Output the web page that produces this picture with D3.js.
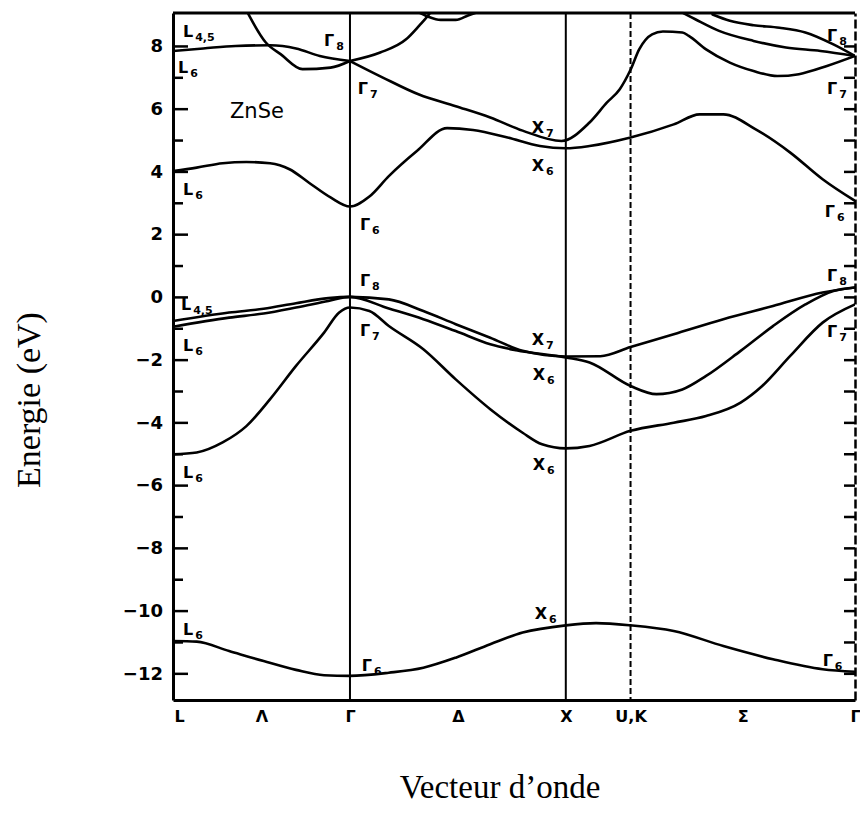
<!DOCTYPE html>
<html><head><meta charset="utf-8">
<script src="https://cdn.jsdelivr.net/npm/d3@7"></script>
<style>body{margin:0;background:#fff;} svg{display:block;}</style>
</head><body>
<svg id="chart" width="860" height="817"></svg>
<script>
// ---- high-symmetry path (units: Γ–X = 1) ----
const kPoints = [0, 0.82, 1.82, 2.12, 3.16];          // L, Γ, X, U/K, Γ
const kLineStyle = ["none", "solid", "solid", "dash", "none"];
const kTickLabels = ["L", "Λ", "Γ", "Δ", "X", "U,K", "Σ", "Γ"];
const kTickPos = [0, 0.41, 0.82, 1.32, 1.82, 2.12, 2.64, 3.16];
const eMajorTicks = [-12, -10, -8, -6, -4, -2, 0, 2, 4, 6, 8];
const eMinorTicks = [-11, -9, -7, -5, -3, -1, 1, 3, 5, 7];
const eAllTicks = [-12, -11, -10, -9, -8, -7, -6, -5, -4, -3, -2, -1, 0, 1, 2, 3, 4, 5, 6, 7, 8];

// ---- bands (k, E in eV) ----
const b1k = [0, 0.11, 0.26, 0.42, 0.57, 0.70, 0.82, 1.0, 1.16, 1.31, 1.47, 1.62, 1.82, 1.96, 2.12, 2.32, 2.55, 2.78, 3.01, 3.16];
const b1e = [-10.97, -10.99, -11.29, -11.61, -11.89, -12.06, -12.08, -11.98, -11.82, -11.50, -11.07, -10.70, -10.47, -10.40, -10.47, -10.65, -11.13, -11.55, -11.87, -11.95];

const b2k = [0, 0.11, 0.23, 0.34, 0.45, 0.57, 0.70, 0.77, 0.82, 0.91, 1.0, 1.16, 1.31, 1.47, 1.62, 1.71, 1.82, 1.93, 2.12, 2.32, 2.47, 2.63, 2.73, 2.86, 3.01, 3.16];
const b2e = [-5.02, -4.96, -4.64, -4.12, -3.26, -2.20, -1.14, -0.50, -0.34, -0.45, -0.93, -1.67, -2.63, -3.58, -4.33, -4.70, -4.83, -4.75, -4.27, -4.01, -3.80, -3.37, -2.84, -1.88, -0.82, -0.24];

const b3k = [0, 0.26, 0.42, 0.57, 0.72, 0.82, 1.0, 1.16, 1.31, 1.47, 1.62, 1.82, 1.98, 2.12, 2.32, 2.55, 2.78, 3.01, 3.16];
const b3e = [-0.77, -0.50, -0.38, -0.20, -0.04, 0.0, -0.08, -0.45, -0.87, -1.30, -1.72, -1.90, -1.89, -1.60, -1.19, -0.71, -0.29, 0.14, 0.30];

const b4k = [0, 0.26, 0.42, 0.57, 0.72, 0.82, 1.0, 1.16, 1.31, 1.47, 1.59, 1.82, 1.93, 2.12, 2.24, 2.36, 2.47, 2.63, 2.78, 2.93, 3.06, 3.16];
const b4e = [-0.95, -0.66, -0.53, -0.34, -0.13, 0.0, -0.37, -0.71, -1.09, -1.51, -1.70, -1.93, -2.09, -2.84, -3.10, -2.95, -2.52, -1.72, -0.93, -0.24, 0.19, 0.30];

const b5k = [0, 0.11, 0.23, 0.34, 0.45, 0.54, 0.63, 0.73, 0.82, 0.91, 1.0, 1.13, 1.27, 1.39, 1.55, 1.70, 1.82, 1.93, 2.12, 2.32, 2.44, 2.55, 2.70, 2.86, 3.01, 3.16];
const b5e = [4.01, 4.12, 4.26, 4.30, 4.26, 4.07, 3.64, 3.17, 2.88, 3.20, 3.85, 4.65, 5.38, 5.32, 5.08, 4.81, 4.74, 4.81, 5.08, 5.50, 5.82, 5.82, 5.34, 4.60, 3.75, 3.06];

const b6ak = [0, 0.14, 0.29, 0.45, 0.57, 0.68, 0.82];
const b6ae = [7.84, 7.92, 8.00, 8.02, 7.92, 7.68, 7.52];
const b6bk = [0.82, 0.96, 1.08, 1.14, 1.19, 1.215];
const b6be = [7.52, 7.79, 8.21, 8.64, 9.04, 9.30];

const b7ak = [0.33, 0.43, 0.50, 0.60, 0.73, 0.82];
const b7ae = [9.27, 8.11, 7.73, 7.26, 7.31, 7.52];
const b7bk = [0.82, 0.97, 1.14, 1.31, 1.47, 1.62, 1.80, 1.93, 2.01, 2.07, 2.12, 2.16, 2.22, 2.27, 2.36, 2.39, 2.47, 2.58, 2.69, 2.80, 2.90, 3.03, 3.16];
const b7be = [7.52, 7.00, 6.45, 6.08, 5.72, 5.30, 4.97, 5.56, 6.19, 6.62, 7.24, 7.89, 8.37, 8.46, 8.43, 8.32, 7.89, 7.47, 7.20, 7.04, 7.10, 7.36, 7.68];

const b8k = [1.13, 1.18, 1.24, 1.31, 1.37, 1.42];
const b8e = [9.10, 8.94, 8.83, 8.83, 8.98, 9.10];

const b9k = [2.35, 2.42, 2.53, 2.69, 2.84, 3.00, 3.16];
const b9e = [9.10, 8.85, 8.48, 8.16, 7.95, 7.84, 7.68];

const b10k = [2.50, 2.58, 2.69, 2.81, 2.93, 3.06, 3.16];
const b10e = [9.00, 8.80, 8.66, 8.58, 8.43, 8.05, 7.68];

const bandList = [[b1k,b1e],[b2k,b2e],[b3k,b3e],[b4k,b4e],[b5k,b5e],[b6ak,b6ae],[b6bk,b6be],[b7ak,b7ae],[b7bk,b7be],[b8k,b8e],[b9k,b9e],[b10k,b10e]];

// ---- state labels ----
const labMain = ["L","L","Γ","Γ","L","Γ","X","X","Γ","Γ","Γ","L","L","Γ","Γ","X","X","Γ","Γ","L","X","L","Γ","X","Γ"];
const labSub  = ["4,5","6","8","7","6","6","7","6","8","7","6","4,5","6","8","7","7","6","8","7","6","6","6","6","6","6"];
const labK    = [0.046,0.023,0.70,0.856,0.046,0.866,1.662,1.662,3.03,3.03,3.02,0.037,0.046,0.866,0.866,1.662,1.667,3.03,3.03,0.046,1.667,0.046,0.875,1.676,3.01];
const labE    = [8.30,7.13,7.99,6.46,3.24,2.12,5.21,4.00,8.15,6.46,2.54,-0.43,-1.74,0.34,-1.25,-1.54,-2.66,0.50,-1.29,-5.78,-5.53,-10.79,-11.94,-10.28,-11.78];
const compound = "ZnSe";
const compoundK = 0.264, compoundE = 5.69;

// ---- drawing ----
const svg = d3.select("#chart");
const x = d3.scaleLinear().domain([0, 3.16]).range([173, 855]);
const y = d3.scaleLinear().domain([-12.85, 9.05]).range([700, 13]);
const labelFont = "'DejaVu Sans', sans-serif";

svg.append("defs").append("clipPath").attr("id","plotclip")
  .append("rect").attr("x", x(0)).attr("y", y(9.05)).attr("width", x(3.16)-x(0)).attr("height", y(-12.85)-y(9.05));

// vertical high-symmetry lines
kPoints.forEach((k,i) => {
  if (kLineStyle[i] === "none") return;
  svg.append("line").attr("x1", x(k)).attr("x2", x(k)).attr("y1", y(9.05)).attr("y2", y(-12.85))
    .attr("stroke","#000").attr("stroke-width", 2)
    .attr("stroke-dasharray", kLineStyle[i] === "dash" ? "6,3" : null);
});

// bands
const line = d3.line().x(d => x(d[0])).y(d => y(d[1])).curve(d3.curveMonotoneX);
const gBands = svg.append("g").attr("clip-path","url(#plotclip)");
bandList.forEach(([ks, es]) => {
  gBands.append("path").datum(ks.map((k,i)=>[k, es[i]]))
    .attr("d", line).attr("fill","none").attr("stroke","#000").attr("stroke-width",2.6)
    .attr("stroke-linejoin","round").attr("stroke-linecap","round");
});

// left axis: major + minor inward ticks
const leftMajor = d3.axisLeft(y).tickValues(eMajorTicks).tickSize(-15).tickSizeOuter(0).tickPadding(10)
  .tickFormat(d => d < 0 ? "\u2212" + Math.abs(d) : String(d));
const gL = svg.append("g").attr("transform", `translate(${x(0)},0)`).call(leftMajor);
gL.select(".domain").attr("stroke-width", 3);
gL.selectAll(".tick line").attr("stroke-width", 2.5);
gL.selectAll("text").attr("font-family", labelFont).attr("font-weight","bold").attr("font-size", 18).attr("fill","#000");

const leftMinor = d3.axisLeft(y).tickValues(eMinorTicks).tickSize(-10).tickSizeOuter(0).tickFormat("");
const gLm = svg.append("g").attr("transform", `translate(${x(0)},0)`).call(leftMinor);
gLm.select(".domain").remove();
gLm.selectAll(".tick line").attr("stroke-width", 2.5);

// right axis (dashed frame edge, inward ticks)
const rightAx = d3.axisRight(y).tickValues(eAllTicks).tickSize(-11).tickSizeOuter(0).tickFormat("");
const gR = svg.append("g").attr("transform", `translate(${x(3.16)},0)`).call(rightAx);
gR.select(".domain").attr("stroke-width", 2.5).attr("stroke-dasharray","9,3");
gR.selectAll(".tick line").attr("stroke-width", 2.5);

// top border
svg.append("line").attr("x1", x(0)).attr("x2", x(3.16)).attr("y1", y(9.05)).attr("y2", y(9.05))
  .attr("stroke","#000").attr("stroke-width",3);

// bottom axis
const bottomAx = d3.axisBottom(x).tickValues(kTickPos).tickSize(0).tickSizeOuter(0).tickPadding(11)
  .tickFormat((d,i) => kTickLabels[i]);
const gB = svg.append("g").attr("transform", `translate(0,${y(-12.85)})`).call(bottomAx);
gB.select(".domain").attr("stroke-width", 3);
gB.selectAll("text").attr("font-family", labelFont).attr("font-weight","bold").attr("font-size", 16).attr("fill","#000");
gB.selectAll(".tick").filter((d,i) => i === 0).select("text").attr("dx", 6);

// state labels
labMain.forEach((m,i) => {
  const t = svg.append("text").attr("x", x(labK[i])).attr("y", y(labE[i]))
    .attr("font-family", labelFont).attr("font-weight","bold").attr("font-size", 16).attr("fill","#000");
  t.append("tspan").text(m);
  t.append("tspan").attr("font-size", 11).attr("dx", 2).attr("dy", 4).text(labSub[i]);
});
svg.append("text").attr("x", x(compoundK)).attr("y", y(compoundE))
  .attr("font-family", labelFont).attr("font-size", 21).attr("fill","#000").text(compound);

// axis titles
svg.append("text").attr("transform", `translate(40,400) rotate(-90)`).attr("text-anchor","middle")
  .attr("font-family","'Liberation Serif', 'Times New Roman', serif").attr("font-size", 34).attr("fill","#000")
  .text("Energie (eV)");
svg.append("text").attr("x", 500).attr("y", 798).attr("text-anchor","middle")
  .attr("font-family","'Liberation Serif', 'Times New Roman', serif").attr("font-size", 33).attr("fill","#000")
  .text("Vecteur d\u2019onde");
</script>
</body></html>
